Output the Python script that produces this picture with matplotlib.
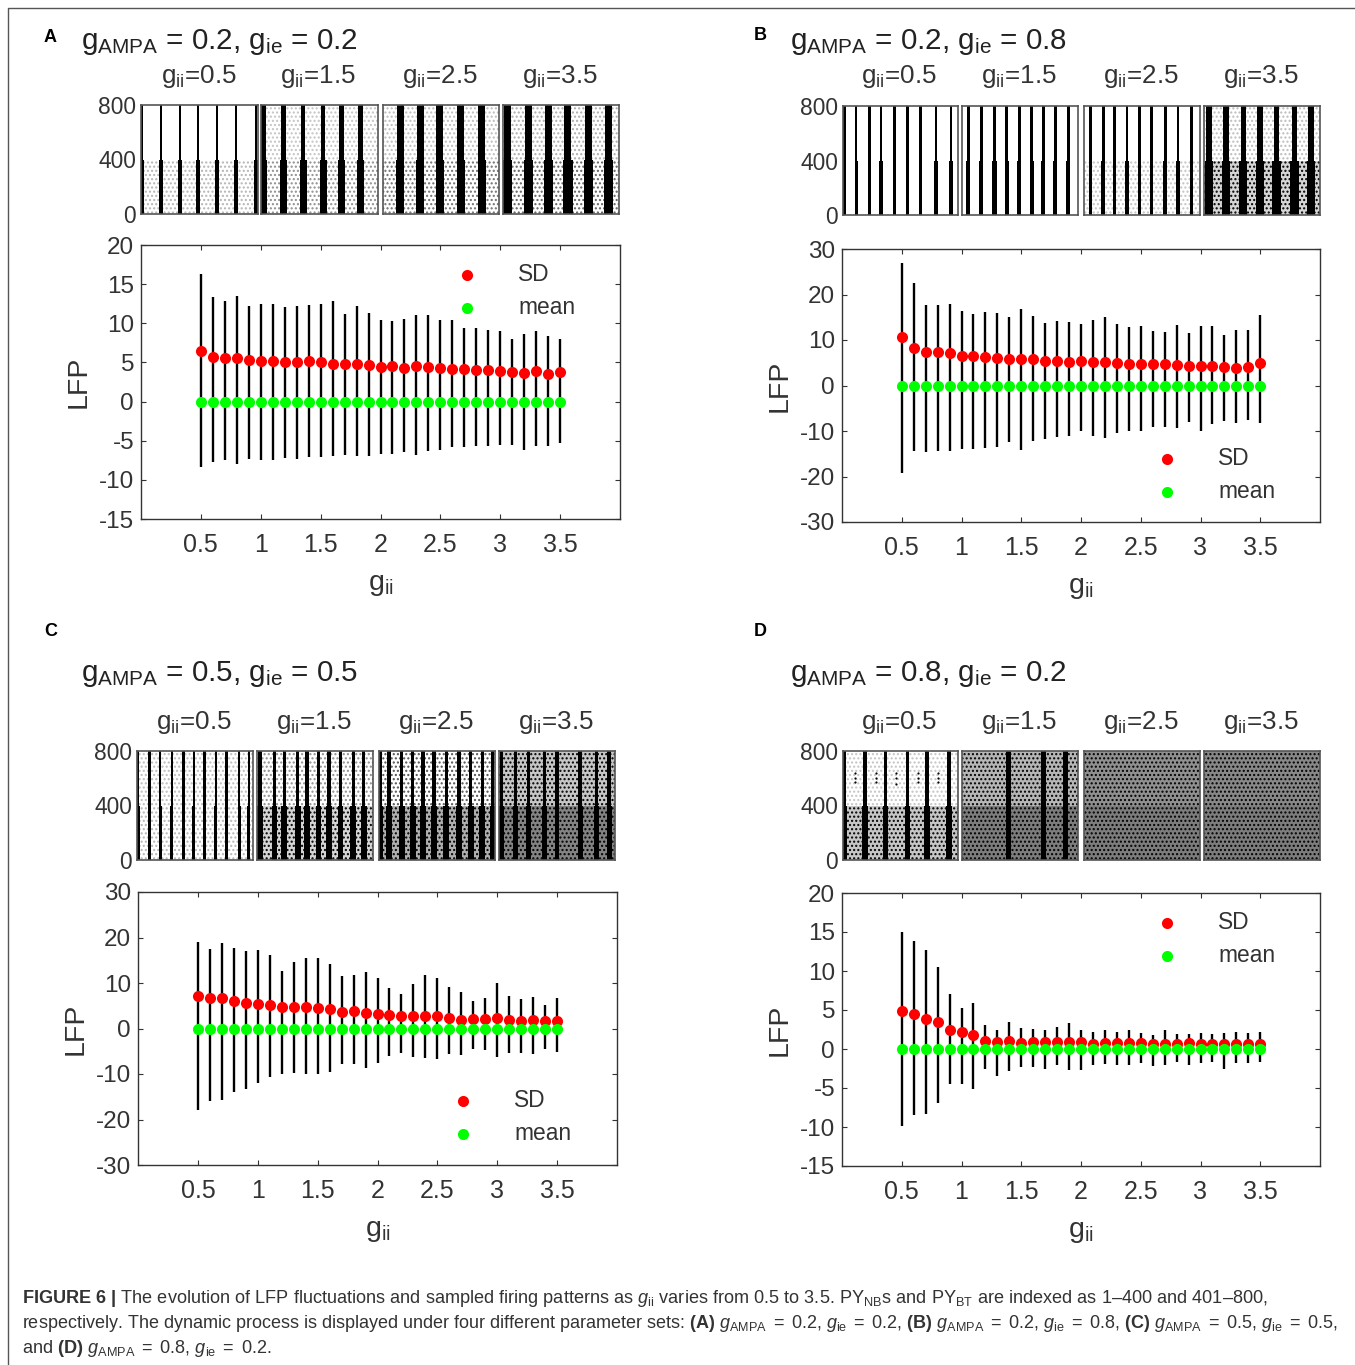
import numpy as np
import matplotlib
matplotlib.use("Agg")
import matplotlib.pyplot as plt
from matplotlib.lines import Line2D

plt.rcParams['font.family'] = ['Liberation Sans', 'DejaVu Sans']
plt.rcParams['mathtext.fontset'] = 'custom'
plt.rcParams['mathtext.rm'] = 'Liberation Sans'
plt.rcParams['mathtext.it'] = 'Liberation Sans:italic'
plt.rcParams['mathtext.bf'] = 'Liberation Sans:bold'
plt.rcParams['axes.unicode_minus'] = False

W, H = 1355, 1365

g_ii = [0.5, 0.6, 0.7, 0.8, 0.9, 1.0, 1.1, 1.2, 1.3, 1.4, 1.5, 1.6, 1.7, 1.8, 1.9, 2.0,
        2.1, 2.2, 2.3, 2.4, 2.5, 2.6, 2.7, 2.8, 2.9, 3.0, 3.1, 3.2, 3.3, 3.4, 3.5]

# LFP ranges and SD
top_a = [16.3, 13.3, 12.9, 13.5, 12.2, 12.4, 12.5, 12.1, 12.2, 12.3, 12.4, 12.8, 11.2, 12.2, 11.3, 10.4,
         10.3, 10.6, 11.0, 11.0, 10.4, 10.4, 9.4, 9.4, 9.2, 9.0, 8.0, 8.6, 9.0, 8.4, 8.0]
bot_a = [-8.3, -7.7, -7.5, -8.0, -7.3, -7.4, -7.4, -7.2, -7.35, -7.1, -7.05, -6.9, -6.8, -7.0, -7.0, -6.7,
         -6.7, -6.45, -6.8, -6.35, -6.2, -5.8, -5.8, -5.7, -5.7, -5.5, -5.5, -6.15, -5.7, -5.7, -5.35]
sd_a = [6.45, 5.65, 5.6, 5.55, 5.25, 5.2, 5.2, 5.1, 5.05, 5.15, 5.0, 4.8, 4.75, 4.8, 4.65, 4.45,
        4.5, 4.3, 4.6, 4.4, 4.3, 4.15, 4.15, 4.05, 4.05, 3.9, 3.75, 3.7, 3.9, 3.5, 3.75]

top_b = [26.9, 22.6, 17.7, 17.8, 18.0, 16.4, 15.8, 16.2, 15.9, 15.0, 16.9, 15.3, 13.8, 14.2, 14.0, 13.6,
         14.4, 15.0, 13.5, 12.8, 13.1, 11.9, 11.8, 13.3, 11.5, 13.0, 13.1, 11.0, 12.2, 12.2, 15.4]
bot_b = [-19.2, -14.5, -14.7, -14.4, -14.4, -13.9, -14.0, -13.65, -13.5, -12.5, -14.2, -12.2, -11.75, -11.4, -11.2, -10.1,
         -11.2, -11.5, -10.4, -10.0, -10.0, -9.2, -9.05, -9.3, -8.1, -9.9, -8.5, -7.9, -8.2, -7.6, -8.2]
sd_b = [10.65, 8.2, 7.4, 7.3, 7.15, 6.5, 6.5, 6.3, 6.15, 5.85, 5.85, 5.85, 5.4, 5.45, 5.25, 5.3,
        5.2, 5.25, 4.9, 4.75, 4.8, 4.65, 4.65, 4.5, 4.3, 4.25, 4.3, 4.0, 3.85, 4.0, 5.0]

top_c = [19.1, 17.4, 18.8, 17.6, 17.0, 17.3, 16.25, 12.7, 14.6, 15.4, 15.4, 14.2, 11.5, 11.7, 12.4, 11.1,
         8.8, 7.6, 9.7, 11.7, 11.1, 9.2, 8.1, 6.1, 6.8, 10.0, 7.1, 6.4, 6.9, 5.2, 6.6]
bot_c = [-18.0, -16.0, -15.7, -13.9, -13.2, -12.0, -10.7, -10.1, -9.85, -10.1, -9.9, -9.5, -7.7, -7.9, -8.6, -7.6,
         -6.0, -5.4, -6.3, -6.5, -6.8, -5.7, -5.9, -4.6, -4.8, -6.3, -5.4, -5.4, -5.7, -4.6, -5.1]
sd_c = [7.05, 6.75, 6.7, 5.95, 5.6, 5.45, 5.15, 4.8, 4.65, 4.65, 4.5, 4.2, 3.6, 3.75, 3.5, 3.25,
        3.0, 2.8, 2.8, 2.85, 2.7, 2.4, 1.9, 2.05, 2.15, 2.35, 1.85, 1.7, 1.85, 1.55, 1.7]

top_d = [15.0, 13.8, 12.7, 10.55, 7.05, 5.3, 5.85, 3.1, 2.45, 3.45, 2.7, 2.6, 2.45, 2.8, 3.3, 2.5,
         2.2, 2.5, 2.2, 2.4, 2.1, 1.85, 2.5, 1.9, 1.9, 2.0, 1.9, 2.0, 2.2, 2.05, 2.2]
bot_d = [-9.85, -8.45, -8.3, -6.9, -4.45, -4.55, -5.1, -2.6, -3.5, -2.8, -2.3, -2.35, -2.6, -2.0, -2.75, -2.75,
         -2.0, -1.9, -2.0, -2.05, -1.85, -2.2, -2.0, -1.7, -2.0, -1.8, -1.7, -2.5, -1.85, -1.85, -1.7]
sd_d = [4.85, 4.5, 3.85, 3.4, 2.4, 2.2, 1.75, 1.05, 0.85, 1.05, 0.8, 0.85, 0.85, 0.85, 0.95, 0.85,
        0.7, 0.75, 0.8, 0.8, 0.75, 0.7, 0.7, 0.7, 0.75, 0.7, 0.7, 0.7, 0.7, 0.7, 0.7]

# raster panels are summarised, not dot by dot: burst times as a fraction of the panel,
# burst widths for the two populations and how much of the ground the scattered spikes cover
bursts_a = [[.01, .17, .33, .49, .65, .81, .98], [.02, .19, .36, .53, .69, .85],
            [.15, .32, .49, .67, .85], [.04, .22, .39, .56, .74, .91]]
width_hi_a = [.018, .04, .06, .06]
width_lo_a = [.035, .06, .07, .08]
fill_hi_a = [0, .01, .02, .04]
fill_lo_a = [.03, .08, .12, .14]

bursts_b = [[.012, .115, .23, .33, .45, .56, .675, .81, .94], [.055, .165, .28, .385, .495, .6, .7, .805, .915],
            [.055, .165, .265, .37, .48, .58, .7, .81, .925], [.045, .19, .34, .485, .625, .78, .92]]
width_hi_b = [.022, .024, .024, .05]
width_lo_b = [.03, .035, .03, .07]
fill_hi_b = [0, 0, 0, .02]
fill_lo_b = [0, 0, .01, .22]

bursts_c = [[.01, .11, .2, .3, .4, .49, .58, .68, .77, .88, .965], [.025, .15, .235, .35, .43, .53, .62, .72, .83, .92],
            [.01, .087, .195, .29, .38, .475, .58, .69, .79, .89, .98], [.02, .14, .255, .39, .5, .7, .84, .95]]
width_hi_c = [.022, .028, .03, .03]
width_lo_c = [.025, .05, .05, .04]
fill_hi_c = [.02, .08, .16, .3]
fill_lo_c = [.03, .22, .42, .65]

bursts_d = [[.012, .19, .37, .56, .73, .92], [.4, .7, .89], [], []]
width_hi_d = [.03, .04, 0, 0]
width_lo_d = [.05, .04, 0, 0]
fill_hi_d = [.01, .38, .58, .62]
fill_lo_d = [.3, .68, .68, .68]

# the few isolated spikes of panel D, gii=0.5
stray_t_d = [.105, .105, .105, .285, .285, .285, .465, .465, .465, .65, .65, .65, .83, .83, .83]
stray_v_d = [640, 600, 570, 640, 600, 570, 640, 600, 555, 640, 600, 570, 640, 600, 570]

panel_letters = ['A', 'B', 'C', 'D']
g_ampa = ['0.2', '0.2', '0.5', '0.8']
g_ie = ['0.2', '0.8', '0.5', '0.2']
raster_titles = ['0.5', '1.5', '2.5', '3.5']
xtick_vals = [0.5, 1, 1.5, 2, 2.5, 3, 3.5]
xtick_text = ['0.5', '1', '1.5', '2', '2.5', '3', '3.5']
yticks_a = [-15, -10, -5, 0, 5, 10, 15, 20]
yticks_b = [-30, -20, -10, 0, 10, 20, 30]
legend_labels = ['SD', 'mean']

tops = [top_a, top_b, top_c, top_d]
bots = [bot_a, bot_b, bot_c, bot_d]
sds = [sd_a, sd_b, sd_c, sd_d]
y_ticks = [yticks_a, yticks_b, yticks_b, yticks_a]
bursts = [bursts_a, bursts_b, bursts_c, bursts_d]
width_hi = [width_hi_a, width_hi_b, width_hi_c, width_hi_d]
width_lo = [width_lo_a, width_lo_b, width_lo_c, width_lo_d]
fill_hi = [fill_hi_a, fill_hi_b, fill_hi_c, fill_hi_d]
fill_lo = [fill_lo_a, fill_lo_b, fill_lo_c, fill_lo_d]

# layout in reference pixels
main_box = [(141, 245, 620, 519), (842, 249, 1320, 522), (138, 892, 617, 1165), (842, 893, 1320, 1166)]
raster_x = [[(141, 258), (261, 378), (383, 499), (503, 619)],
            [(843, 958), (962, 1078), (1084, 1200), (1204, 1320)],
            [(137, 253), (257, 373), (379, 495), (499, 615)],
            [(843, 958), (962, 1078), (1084, 1200), (1204, 1320)]]
raster_y = [(105, 214), (106, 215), (751, 860), (751, 860)]
sub_x = [[199, 318, 440, 560], [899, 1019, 1141, 1261], [194, 314, 436, 556], [899, 1019, 1141, 1261]]
sub_y = [76, 77, 722, 722]
title_xy = [(81, 49), (790, 49), (81, 681), (790, 681)]
letter_xy = [(44, 37), (754, 36), (44, 632), (754, 632)]
legend_xy = [(456, 291), (1156, 475), (452, 1117), (1156, 939)]

DARK = '#333333'

fig = plt.figure(figsize=(W / 100, H / 100), dpi=100)


def fx(x):
    return x / W


def fy(y):
    return 1 - y / H


def px_axes(left, top, right, bottom):
    return fig.add_axes([fx(left), fy(bottom), (right - left) / W, (bottom - top) / H])


def draw_raster(ax, times, w_hi, w_lo, f_hi, f_lo):
    for f, base in [(f_lo, 0), (f_hi, 400)]:
        if f > 0:
            # sparse spikes are a pale fine hatch, dense ones get a grey ground and black dots
            tone = str(1 - f * 0.75) if f > 0.2 else 'white'
            dot_color = 'black' if f > 0.2 else str(0.8 - f * 3)
            ax.bar(0.5, 400, width=1, bottom=base, color=tone, edgecolor=dot_color, hatch='....', linewidth=0)
    if times:
        ax.bar(times, 400, width=w_lo, bottom=0, color='black', linewidth=0)
        ax.bar(times, 400, width=w_hi, bottom=400, color='black', linewidth=0)
    ax.set_xlim(0, 1)
    ax.set_ylim(0, 800)
    ax.set_xticks([])
    for s in ax.spines.values():
        s.set_color('#555555')
        s.set_linewidth(1.2)


for i in range(4):
    # upper row of raster plots
    for j in range(4):
        x0, x1 = raster_x[i][j]
        ax_r = px_axes(x0, raster_y[i][0], x1, raster_y[i][1])
        draw_raster(ax_r, bursts[i][j], width_hi[i][j], width_lo[i][j], fill_hi[i][j], fill_lo[i][j])
        if i == 3 and j == 0:
            ax_r.scatter(stray_t_d, stray_v_d, s=2.5, color='black', linewidths=0)
        if j == 0:
            ax_r.set_yticks([0, 400, 800])
            ax_r.tick_params(axis='y', length=0, pad=3.5, labelsize=16.4, labelcolor=DARK)
        else:
            ax_r.set_yticks([])
        fig.text(fx(sub_x[i][j]), fy(sub_y[i]), r'g$_{\mathrm{ii}}$=' + raster_titles[j], fontsize=18.7,
                 color=DARK, ha='center', va='center')

    # LFP panel
    ax = px_axes(*main_box[i])
    ax.vlines(g_ii, bots[i], tops[i], color='black', linewidth=1.7, zorder=2)
    ax.scatter(g_ii, sds[i], s=64, color='#ff0000', linewidths=0, zorder=3, label=legend_labels[0])
    ax.scatter(g_ii, np.zeros(len(g_ii)), s=64, color='#00ff00', linewidths=0, zorder=4, label=legend_labels[1])
    ax.set_xlim(0, 4)
    ax.set_ylim(y_ticks[i][0], y_ticks[i][-1])
    ax.set_xticks(xtick_vals)
    ax.set_xticklabels(xtick_text)
    ax.set_yticks(y_ticks[i])
    ax.tick_params(axis='both', direction='in', top=True, right=True, length=3.5, width=0.8, color=DARK)
    ax.tick_params(axis='x', pad=10, labelsize=18, labelcolor=DARK)
    ax.tick_params(axis='y', pad=5, labelsize=17.5, labelcolor=DARK)
    for s in ax.spines.values():
        s.set_color(DARK)
        s.set_linewidth(1.0)
    ax.set_xlabel(r'g$_{\mathrm{ii}}$', fontsize=20.5, color=DARK, labelpad=11)
    ax.set_ylabel('LFP', fontsize=20.5, color=DARK, labelpad=5)
    ax.legend(loc='center left', bbox_to_anchor=(fx(legend_xy[i][0]), fy(legend_xy[i][1])),
              bbox_transform=fig.transFigure, frameon=False, fontsize=16.4, borderpad=0, borderaxespad=0,
              handlelength=1, handletextpad=1.72, labelspacing=0.42, scatterpoints=1, labelcolor=DARK)

    fig.text(fx(title_xy[i][0]), fy(title_xy[i][1]),
             r'g$_{\mathrm{AMPA}}$ = ' + g_ampa[i] + r', g$_{\mathrm{ie}}$ = ' + g_ie[i],
             fontsize=21.3, color='#222222', ha='left', va='baseline')
    fig.text(fx(letter_xy[i][0]), fy(letter_xy[i][1]), panel_letters[i], fontsize=13, fontweight='bold',
             color='black', ha='left', va='center')

eq = r'$\,$=$\,$'
caption = [
    r'$\mathbf{FIGURE\ 6\ |}$ The evolution of LFP fluctuations and sampled firing patterns as $g_{\mathrm{ii}}$'
    r' varies from 0.5 to 3.5. PY$_{\mathrm{NB}}$s and PY$_{\mathrm{BT}}$ are indexed as 1–400 and 401–800,',
    r'respectively. The dynamic process is displayed under four different parameter sets: '
    r'$\mathbf{(A)}$ $g_{\mathrm{AMPA}}$ ' + eq + r' 0.2, $g_{\mathrm{ie}}$ ' + eq + r' 0.2, $\mathbf{(B)}$ $g_{\mathrm{AMPA}}$ '
    + eq + r' 0.2, $g_{\mathrm{ie}}$ ' + eq + r' 0.8, $\mathbf{(C)}$ $g_{\mathrm{AMPA}}$ ' + eq + r' 0.5, $g_{\mathrm{ie}}$ '
    + eq + r' 0.5,',
    r'and $\mathbf{(D)}$ $g_{\mathrm{AMPA}}$ ' + eq + r' 0.8, $g_{\mathrm{ie}}$ ' + eq + r' 0.2.',
]
caption_y = [1303, 1328, 1353]
caption_size = [13.08, 12.98, 13.08]
for line, y, size in zip(caption, caption_y, caption_size):
    fig.text(fx(22), fy(y), line, fontsize=size, color=DARK, ha='left', va='baseline')

# page frame of the figure box
fig.add_artist(Line2D([fx(8), fx(8), 1], [0, fy(8), fy(8)], color='#555555', linewidth=1.0))

fig.savefig('out.png', dpi=100)
